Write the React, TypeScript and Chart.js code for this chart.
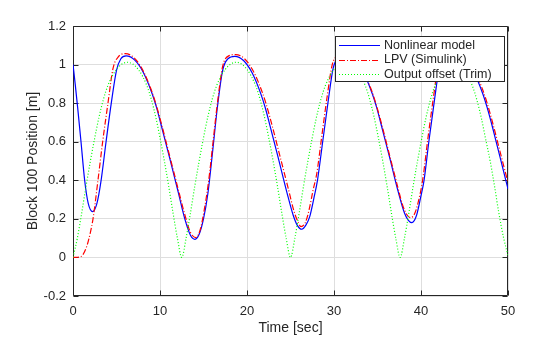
import React, { useEffect, useRef } from 'react';
import { Chart, registerables } from 'chart.js';

Chart.register(...registerables);

// ---------- data ----------
const xTicks = [0, 10, 20, 30, 40, 50];
const yTicks = [-0.2, 0, 0.2, 0.4, 0.6, 0.8, 1, 1.2];
const seriesLabels = ['Nonlinear model', 'LPV (Simulink)', 'Output offset (Trim)'];
const xLabel = 'Time [sec]';
const yLabel = 'Block 100 Position [m]';

const nonlinearT = [0, 0.25, 0.55, 0.92, 1.34, 1.75, 2.26, 2.75, 3.2, 3.8, 4.4, 5.0, 5.5, 6.1, 7.1, 8.1, 9.1, 9.6, 10.2, 11.1, 12.1, 12.85, 13.5, 14.02, 14.5, 15.0, 15.5, 16.05, 16.6, 17.2, 17.8, 18.6, 19.6, 20.6, 21.6, 22.1, 22.7, 23.6, 24.6, 25.3, 25.8, 26.3, 26.8, 27.2, 27.7, 28.1, 28.7, 29.3, 29.9, 30.4, 31.4, 32.4, 33.4, 34.4, 34.9, 35.5, 36.4, 37.4, 38.1, 38.5, 38.95, 39.5, 40.0, 40.35, 40.9, 41.5, 42.1, 42.8, 44.1, 45.1, 46.1, 47.1, 47.6, 48.22, 49.1, 50];
const nonlinearY = [1.0, 0.9, 0.77, 0.6, 0.4, 0.28, 0.237, 0.28, 0.39, 0.6, 0.8, 0.97, 1.03, 1.045, 1.023, 0.958, 0.849, 0.778, 0.675, 0.517, 0.337, 0.2, 0.115, 0.094, 0.12, 0.2, 0.33, 0.55, 0.78, 0.97, 1.03, 1.043, 1.021, 0.956, 0.847, 0.776, 0.673, 0.515, 0.335, 0.22, 0.165, 0.146, 0.17, 0.21, 0.31, 0.4, 0.6, 0.8, 0.98, 1.03, 1.045, 1.023, 0.958, 0.849, 0.778, 0.675, 0.517, 0.337, 0.23, 0.195, 0.18, 0.22, 0.32, 0.4, 0.6, 0.8, 0.98, 1.035, 1.045, 1.023, 0.958, 0.849, 0.778, 0.675, 0.517, 0.355];

const lpvT = [0, 0.6, 1.1, 1.6, 2.0, 2.3, 2.87, 3.41, 4.02, 4.6, 5.2, 6.0, 7.0, 8.0, 9.0, 9.5, 10.2, 11.0, 12.0, 12.8, 13.5, 14.1, 14.6, 15.1, 15.6, 16.1, 16.6, 17.2, 17.9, 18.7, 19.7, 20.7, 21.7, 22.2, 22.9, 23.7, 24.7, 25.4, 25.8, 26.2, 26.7, 27.1, 27.6, 28.0, 28.6, 29.2, 29.8, 30.4, 31.3, 32.3, 33.3, 34.3, 34.8, 35.5, 36.3, 37.3, 37.9, 38.4, 38.8, 39.3, 39.9, 40.25, 40.8, 41.4, 42.0, 42.7, 44.1, 45.1, 46.1, 47.1, 47.6, 48.3, 49.1, 50];
const lpvY = [0, 0.001, 0.012, 0.06, 0.13, 0.2, 0.4, 0.6, 0.8, 0.98, 1.04, 1.057, 1.036, 0.973, 0.868, 0.8, 0.687, 0.546, 0.37, 0.23, 0.13, 0.103, 0.14, 0.25, 0.4, 0.6, 0.8, 0.99, 1.045, 1.052, 1.031, 0.968, 0.863, 0.795, 0.682, 0.541, 0.365, 0.24, 0.19, 0.16, 0.18, 0.24, 0.35, 0.43, 0.63, 0.83, 1.0, 1.045, 1.057, 1.036, 0.973, 0.868, 0.8, 0.687, 0.546, 0.37, 0.27, 0.22, 0.206, 0.23, 0.33, 0.42, 0.62, 0.82, 1.0, 1.045, 1.057, 1.036, 0.973, 0.868, 0.8, 0.687, 0.546, 0.388];

const trimT = [0, 0.5, 1, 1.5, 2, 2.5, 3, 3.5, 4, 5, 6.25, 7.5, 8.5, 9, 9.5, 10, 10.5, 11, 11.5, 12, 12.5,
  13, 13.5, 14, 14.5, 15, 15.5, 16, 16.5, 17.5, 18.75, 20, 21, 21.5, 22, 22.5, 23, 23.5, 24, 24.5, 25,
  25.5, 26, 26.5, 27, 27.5, 28, 28.5, 29, 30, 31.3, 32.6, 33.6, 34.1, 34.6, 35.1, 35.6, 36.1, 36.6, 37.1, 37.6,
  38.1, 38.6, 39.1, 39.6, 40.1, 40.6, 41.1, 41.6, 42.6, 43.7, 45.0, 45.9, 46.4, 46.9, 47.4, 47.95, 48.45, 48.95, 49.5, 50];
const trimY = [0, 0.1, 0.23, 0.37, 0.5, 0.62, 0.73, 0.82, 0.89, 0.975, 1.012, 0.975, 0.89, 0.82, 0.73, 0.62, 0.5, 0.37, 0.23, 0.1, 0,
  0.1, 0.23, 0.37, 0.5, 0.62, 0.73, 0.82, 0.89, 0.975, 1.012, 0.975, 0.89, 0.82, 0.73, 0.62, 0.5, 0.37, 0.23, 0.1, 0,
  0.1, 0.23, 0.37, 0.5, 0.62, 0.73, 0.82, 0.89, 0.975, 1.012, 0.975, 0.89, 0.82, 0.73, 0.62, 0.5, 0.37, 0.23, 0.1, 0,
  0.1, 0.23, 0.37, 0.5, 0.62, 0.73, 0.82, 0.89, 0.975, 1.012, 0.975, 0.89, 0.82, 0.73, 0.62, 0.5, 0.37, 0.23, 0.1, 0.01];

// ---------- style ----------
const FONT = '"Liberation Sans", Arial, Helvetica, sans-serif';
const AXIS_COLOR = '#262626';
const GRID_COLOR = '#dedede';
const COLORS = ['#0000ff', '#ff0000', '#00ff00'];
const DASHES: number[][] = [[], [6, 2, 1, 2], [1, 2]];

const W = 560;
const H = 337;

const toPts = (t: number[], y: number[]) => t.map((tv, i) => ({ x: tv, y: y[i] }));

const framePlugin = {
  id: 'matlabFrame',
  beforeDatasetsDraw(chart: any) {
    const ctx = chart.ctx as CanvasRenderingContext2D;
    const { left, right, top, bottom } = chart.chartArea;
    const xs = chart.scales.x;
    const ys = chart.scales.y;
    ctx.save();
    ctx.strokeStyle = AXIS_COLOR;
    ctx.lineWidth = 1;
    const L = Math.round(left) + 0.5;
    const R = Math.round(right) - 0.5;
    const T = Math.round(top) + 0.5;
    const B = Math.round(bottom) - 0.5;
    ctx.beginPath();
    ctx.rect(L, T, R - L, B - T);
    ctx.stroke();
    const tl = 5;
    ctx.beginPath();
    xTicks.forEach((v) => {
      const p = Math.round(xs.getPixelForValue(v)) + 0.5;
      ctx.moveTo(p, B);
      ctx.lineTo(p, B - tl);
      ctx.moveTo(p, T);
      ctx.lineTo(p, T + tl);
    });
    yTicks.forEach((v) => {
      const p = Math.round(ys.getPixelForValue(v)) + 0.5;
      ctx.moveTo(L, p);
      ctx.lineTo(L + tl, p);
      ctx.moveTo(R, p);
      ctx.lineTo(R - tl, p);
    });
    ctx.stroke();
    ctx.restore();
  },
  afterDraw(chart: any) {
    const ctx = chart.ctx as CanvasRenderingContext2D;
    const { left, right, top, bottom } = chart.chartArea;
    ctx.save();
    // axis titles
    ctx.fillStyle = AXIS_COLOR;
    ctx.font = `14px ${FONT}`;
    ctx.textAlign = 'center';
    ctx.textBaseline = 'middle';
    ctx.fillText(xLabel, (left + right) / 2, 328);
    ctx.save();
    ctx.translate(33, (top + bottom) / 2);
    ctx.rotate(-Math.PI / 2);
    ctx.fillText(yLabel, 0, 0);
    ctx.restore();

    // legend
    const lx0 = 335, ly0 = 36, lx1 = 505, ly1 = 82;
    ctx.fillStyle = '#ffffff';
    ctx.fillRect(lx0, ly0, lx1 - lx0, ly1 - ly0);
    ctx.strokeStyle = AXIS_COLOR;
    ctx.lineWidth = 1;
    ctx.strokeRect(lx0 + 0.5, ly0 + 0.5, lx1 - lx0 - 1, ly1 - ly0 - 1);
    const rows = [45, 59.5, 74];
    ctx.font = `12.5px ${FONT}`;
    ctx.textAlign = 'left';
    ctx.textBaseline = 'middle';
    seriesLabels.forEach((lab, i) => {
      const y = Math.round(rows[i]) + 0.5;
      ctx.strokeStyle = COLORS[i];
      ctx.setLineDash(DASHES[i]);
      ctx.beginPath();
      ctx.moveTo(339, y);
      ctx.lineTo(380, y);
      ctx.stroke();
      ctx.setLineDash([]);
      ctx.fillStyle = AXIS_COLOR;
      ctx.fillText(lab, 384, rows[i] + 0.5);
    });
    ctx.restore();
  },
};

export default function App() {
  const ref = useRef<HTMLCanvasElement | null>(null);
  useEffect(() => {
    if (!ref.current) return;
    const mk = (i: number, t: number[], y: number[], order: number) => ({
      label: seriesLabels[i],
      data: toPts(t, y),
      borderColor: COLORS[i],
      backgroundColor: COLORS[i],
      borderWidth: 1.2,
      borderDash: DASHES[i],
      pointRadius: 0,
      fill: false,
      cubicInterpolationMode: 'monotone' as const,
      order,
    });
    const chart = new Chart(ref.current, {
      type: 'line',
      data: {
        datasets: [
          mk(0, nonlinearT, nonlinearY, 3),
          mk(1, lpvT, lpvY, 2),
          mk(2, trimT, trimY, 1),
        ],
      },
      options: {
        animation: false,
        responsive: false,
        devicePixelRatio: 1,
        layout: { padding: { left: 0, right: 52, top: 26, bottom: 0 } },
        plugins: { legend: { display: false }, tooltip: { enabled: false } },
        scales: {
          x: {
            type: 'linear',
            min: 0,
            max: 50,
            afterBuildTicks: (s: any) => { s.ticks = xTicks.map((v) => ({ value: v })); },
            afterFit: (s: any) => { s.height = 41; },
            ticks: {
              color: AXIS_COLOR,
              font: { family: FONT, size: 13 },
              padding: 8,
              maxRotation: 0,
              autoSkip: false,
              callback: (v: any) => String(Math.round(Number(v))),
            },
            grid: { color: GRID_COLOR, drawTicks: false, lineWidth: 1 },
            border: { display: false },
          },
          y: {
            type: 'linear',
            min: -0.2,
            max: 1.2,
            afterBuildTicks: (s: any) => { s.ticks = yTicks.map((v) => ({ value: v })); },
            afterFit: (s: any) => { s.width = 73; },
            ticks: {
              color: AXIS_COLOR,
              font: { family: FONT, size: 13 },
              padding: 7,
              autoSkip: false,
              callback: (v: any) => String(Math.round(Number(v) * 10) / 10),
            },
            grid: { color: GRID_COLOR, drawTicks: false, lineWidth: 1 },
            border: { display: false },
          },
        },
      },
      plugins: [framePlugin],
    });
    return () => chart.destroy();
  }, []);
  return (
    <div style={{ position: 'absolute', left: 0, top: 0, width: W, height: H, background: '#fff' }}>
      <canvas ref={ref} width={W} height={H} style={{ display: 'block' }} />
    </div>
  );
}
